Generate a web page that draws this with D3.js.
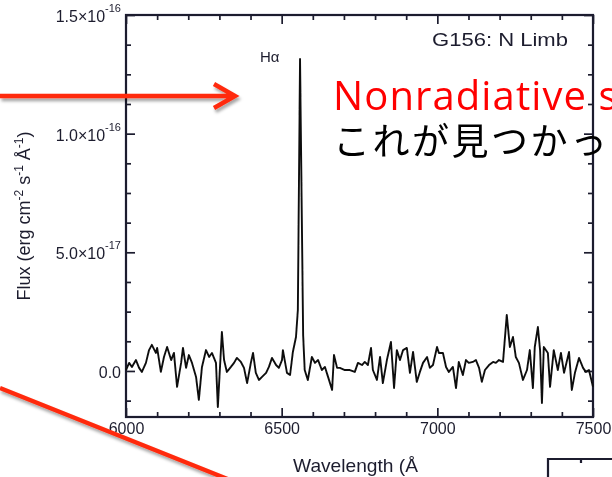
<!DOCTYPE html>
<html>
<head>
<meta charset="utf-8">
<script src="https://cdn.jsdelivr.net/npm/d3@7"></script>
<style>
  body { margin: 0; background: #fff; overflow: hidden; }
  svg { display: block; }
</style>
</head>
<body>
<script>
// Spectrum of G156 (north limb): wavelength in Å, flux in units of 1e-17 erg cm^-2 s^-1 Å^-1
const wavelength = [6000,6010,6019,6032,6042,6051,6064,6074,6083,6096,
  6100,6112,6122,6132,6145,6154,6164,6177,6183,6193,
  6202,6212,6225,6234,6244,6257,6267,6276,6289,6295,
  6308,6315,6324,6337,6347,6356,6369,6379,6389,6401,
  6408,6417,6427,6437,6450,6459,6469,6482,6491,6501,
  6504,6517,6527,6536,6546,6552,6559,6569,6574,6584,
  6597,6607,6617,6629,6639,6649,6662,6668,6678,6687,
  6703,6719,6735,6745,6758,6767,6777,6787,6793,6806,
  6816,6825,6838,6851,6861,6870,6880,6890,6902,6912,
  6922,6934,6944,6954,6967,6976,6986,6999,7005,7018,
  7028,7037,7050,7060,7069,7082,7092,7101,7114,7124,
  7134,7143,7153,7166,7179,7188,7198,7211,7223,7233,
  7243,7252,7262,7275,7288,7297,7307,7313,7323,7330,
  7336,7342,7355,7362,7374,7387,7397,7407,7423,7432,
  7442,7455,7468,7477,7487,7500];
const flux = [0.04,0.34,0.17,0.46,0.13,-0.04,0.34,0.88,1.10,0.76,
  0.97,-0.04,0.59,1.01,0.46,0.76,-0.67,0.34,0.97,0.13,
  0.67,0.34,-0.25,-1.22,0.17,0.88,0.59,0.76,0.34,-1.52,
  1.64,0.46,-0.04,0.17,0.34,0.55,0.38,0.13,-0.51,0.34,
  0.76,-0.08,-0.38,-0.25,-0.08,0.17,0.55,0.25,0.13,0.46,
  0.88,-0.08,-0.17,0.80,1.43,2.57,13.15,1.5,0.04,-0.38,
  0.59,0.34,0.46,0.04,0.17,-0.25,-0.80,0.67,0.13,0.13,
  0.04,0.04,-0.04,0.34,0.25,0.38,0.25,0.97,0.04,-0.38,
  0.59,-0.51,0.46,1.22,-0.72,0.88,0.46,0.88,0.97,-0.08,
  0.80,-0.46,-0.04,0.34,0.59,0.13,0.25,1.01,0.76,0.76,
  0.17,-0.04,0.17,-0.72,0.38,-0.17,0.46,0.34,0.38,0.46,
  0.13,-0.46,0.04,0.25,0.38,0.34,0.46,0.38,2.36,1.01,
  1.43,0.59,0.34,-0.38,0.04,0.88,-0.72,1.01,1.85,0.88,
  -1.35,1.01,0.76,-0.67,0.88,0.04,0.76,-0.08,0.80,-0.80,
  -0.08,0.55,0.13,-0.04,0.04,-0.67];

const xDomain = [6000, 7500];
const yDomain = [-1.94, 15];
const xTicks = [6000, 6500, 7000, 7500];
const xMinorStep = 100;
const yTicks = [0, 5, 10, 15];
const yTickLabels = [["0.0", ""], ["5.0\u00d710", "-17"], ["1.0\u00d710", "-16"], ["1.5\u00d710", "-16"]];
const yMinorStep = 1.25;
const panelTitle = "G156: N Limb";
const lineName = "H\u03b1";
const lineWavelength = 6559;
const xTitle = "Wavelength (\u00c5";
const noteRed = "Nonradiative s";
const noteJa = "\u3053\u308c\u304c\u898b\u3064\u304b\u3063";

const W = 612, H = 477;
const plot = { left: 126, right: 593, top: 15, bottom: 417 };
const ink = "#1d1d2e";
const sans = "'Liberation Sans', Arial, Helvetica, sans-serif";

const svg = d3.select("body").append("svg").attr("width", W).attr("height", H);
const defs = svg.append("defs");
const soft = defs.append("filter").attr("id", "soft")
  .attr("filterUnits", "userSpaceOnUse").attr("x", 0).attr("y", 0).attr("width", W).attr("height", H);
soft.append("feGaussianBlur").attr("stdDeviation", 0.45);
const shadow = defs.append("filter").attr("id", "shadow")
  .attr("filterUnits", "userSpaceOnUse").attr("x", -20).attr("y", -20).attr("width", W + 40).attr("height", H + 40);
shadow.append("feDropShadow").attr("dx", 1.5).attr("dy", 3).attr("stdDeviation", 1.6)
  .attr("flood-color", "#000").attr("flood-opacity", 0.35);

const x = d3.scaleLinear().domain(xDomain).range([plot.left, plot.right]);
const y = d3.scaleLinear().domain(yDomain).range([plot.bottom, plot.top]);

const chart = svg.append("g").attr("filter", "url(#soft)");

const xMinor = d3.range(xDomain[0], xDomain[1] + 1, xMinorStep).filter(v => !xTicks.includes(v));
const yMinor = d3.range(-1.25, yDomain[1] + 0.01, yMinorStep).filter(v => !yTicks.includes(v));

function styleAxis(g) {
  g.select(".domain").remove();
  g.selectAll("line").attr("stroke", ink).attr("stroke-width", 1.7);
  g.selectAll("text").attr("font-family", sans).attr("font-size", 16).attr("fill", ink);
}

// bottom axis: inward ticks with labels
chart.append("g").attr("transform", `translate(0,${plot.bottom})`)
  .call(d3.axisBottom(x).tickValues(xTicks).tickSize(-9).tickSizeOuter(0).tickPadding(6).tickFormat(d3.format("d")))
  .call(styleAxis);
chart.append("g").attr("transform", `translate(0,${plot.bottom})`)
  .call(d3.axisBottom(x).tickValues(xMinor).tickSize(-5).tickSizeOuter(0).tickFormat(""))
  .call(styleAxis);
// top axis: mirrored ticks
chart.append("g").attr("transform", `translate(0,${plot.top})`)
  .call(d3.axisTop(x).tickValues(xTicks).tickSize(-9).tickSizeOuter(0).tickFormat(""))
  .call(styleAxis);
chart.append("g").attr("transform", `translate(0,${plot.top})`)
  .call(d3.axisTop(x).tickValues(xMinor).tickSize(-5).tickSizeOuter(0).tickFormat(""))
  .call(styleAxis);
// left axis with scientific labels
const yAxisG = chart.append("g").attr("transform", `translate(${plot.left},0)`)
  .call(d3.axisLeft(y).tickValues(yTicks).tickSize(-9).tickSizeOuter(0).tickPadding(5))
  .call(styleAxis);
yAxisG.selectAll(".tick text").each(function (d) {
  const t = d3.select(this).text(null).attr("dy", "0.4em");
  const [mant, expo] = yTickLabels[yTicks.indexOf(d)];
  t.append("tspan").text(mant);
  if (expo) t.append("tspan").attr("font-size", 11).attr("dy", -10).text(expo);
});
chart.append("g").attr("transform", `translate(${plot.left},0)`)
  .call(d3.axisLeft(y).tickValues(yMinor).tickSize(-5).tickSizeOuter(0).tickFormat(""))
  .call(styleAxis);
// right axis: mirrored ticks
chart.append("g").attr("transform", `translate(${plot.right},0)`)
  .call(d3.axisRight(y).tickValues(yTicks).tickSize(-9).tickSizeOuter(0).tickFormat(""))
  .call(styleAxis);
chart.append("g").attr("transform", `translate(${plot.right},0)`)
  .call(d3.axisRight(y).tickValues(yMinor).tickSize(-5).tickSizeOuter(0).tickFormat(""))
  .call(styleAxis);

// frame
chart.append("rect")
  .attr("x", plot.left).attr("y", plot.top)
  .attr("width", plot.right - plot.left).attr("height", plot.bottom - plot.top)
  .attr("fill", "none").attr("stroke", ink).attr("stroke-width", 2.2);

// spectrum
const pts = wavelength.map((w, i) => [w, flux[i]]);
chart.append("path")
  .datum(pts)
  .attr("fill", "none").attr("stroke", "#111").attr("stroke-width", 1.9)
  .attr("stroke-linejoin", "round")
  .attr("d", d3.line().x(d => x(d[0])).y(d => y(d[1])));

// labels inside the panel
chart.append("text")
  .attr("x", 432).attr("y", 45.5)
  .attr("font-family", sans).attr("font-size", 18.5).attr("fill", ink)
  .attr("textLength", 136).attr("lengthAdjust", "spacingAndGlyphs")
  .text(panelTitle);
const peak = d3.max(flux);
chart.append("text")
  .attr("x", x(lineWavelength) - 40).attr("y", y(peak) + 3)
  .attr("font-family", sans).attr("font-size", 15).attr("fill", ink)
  .text(lineName);

// axis titles
chart.append("text")
  .attr("x", 293).attr("y", 471.5)
  .attr("font-family", sans).attr("font-size", 18.5).attr("fill", ink)
  .attr("textLength", 125).attr("lengthAdjust", "spacingAndGlyphs")
  .text(xTitle);
const yt = chart.append("text")
  .attr("transform", `translate(30,${(plot.top + plot.bottom) / 2}) rotate(-90)`)
  .attr("text-anchor", "middle")
  .attr("font-family", sans).attr("font-size", 18).attr("fill", ink);
[["Flux (erg cm", 0, 18], ["-2", -7, 12], [" s", 7, 18], ["-1", -7, 12], [" \u00c5", 7, 18], ["-1", -7, 12], [")", 7, 18]]
  .forEach(([s, dy, fs]) => yt.append("tspan").attr("dy", dy).attr("font-size", fs).text(s));

// neighbouring panel frame peeking in at the lower right
chart.append("path")
  .attr("d", `M548,${H} V459 H${W} M581,459 V463`)
  .attr("fill", "none").attr("stroke", ink).attr("stroke-width", 2.2);

// annotation arrows
const red = "#ff2a0c";
const arrows = svg.append("g").attr("filter", "url(#shadow)")
  .attr("stroke", red).attr("stroke-width", 4.5).attr("fill", "none").attr("stroke-linejoin", "miter");
arrows.append("path").attr("d", "M0,96 H233 M214,84 L235,96 L214,108");
arrows.append("path").attr("d", "M0,388 L240,484");

// annotation text
svg.append("text")
  .attr("x", 333).attr("y", 110)
  .attr("font-family", "'Open Sans', 'Noto Sans', sans-serif").attr("font-size", 40)
  .attr("letter-spacing", 1.1).attr("fill", "#ff0000")
  .text(noteRed);
svg.append("text")
  .attr("x", 333).attr("y", 155)
  .attr("font-family", "'Noto Sans CJK JP', sans-serif").attr("font-size", 37)
  .attr("letter-spacing", 2.5).attr("fill", "#000")
  .text(noteJa);
</script>
</body>
</html>
